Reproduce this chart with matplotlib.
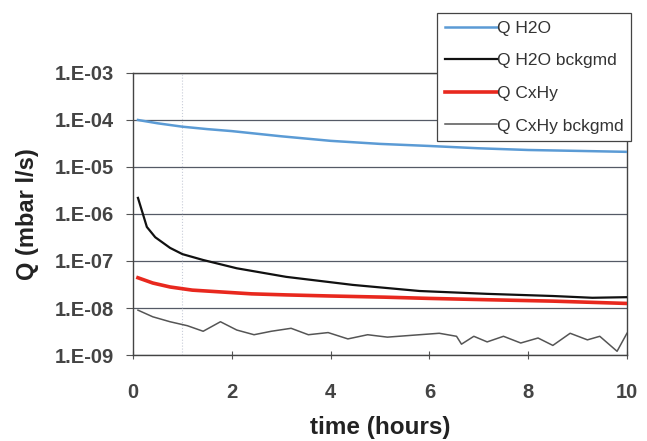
import matplotlib
matplotlib.use("Agg")
import matplotlib.pyplot as plt
import numpy as np

plt.rcParams['font.family'] = ['Liberation Sans', 'DejaVu Sans']

# Data
t_h2o = [0.1, 0.5, 1.0, 1.5, 2.0, 3.0, 4.0, 5.0, 6.0, 7.0, 8.0, 9.0, 10.0]
q_h2o = [1.0e-4, 8.5e-5, 7.2e-5, 6.4e-5, 5.8e-5, 4.5e-5, 3.6e-5, 3.1e-5, 2.8e-5, 2.5e-5, 2.3e-5, 2.2e-5, 2.1e-5]

t_h2o_bg = [0.1, 0.2, 0.28, 0.45, 0.75, 1.0, 1.42, 2.1, 3.1, 4.45, 5.8, 7.17, 8.5, 9.3, 10.0]
q_h2o_bg = [2.2e-6, 1.0e-6, 5.3e-7, 3.2e-7, 1.9e-7, 1.4e-7, 1.05e-7, 7.0e-8, 4.6e-8, 3.1e-8, 2.3e-8, 2.0e-8, 1.8e-8, 1.65e-8, 1.7e-8]

t_cxhy = [0.1, 0.4, 0.75, 1.2, 1.77, 2.4, 3.1, 4.0, 5.1, 6.0, 7.17, 8.5, 10.0]
q_cxhy = [4.4e-8, 3.4e-8, 2.8e-8, 2.4e-8, 2.2e-8, 2.0e-8, 1.9e-8, 1.8e-8, 1.7e-8, 1.6e-8, 1.5e-8, 1.4e-8, 1.25e-8]

t_cxhy_bg = [0.1, 0.4, 0.75, 1.1, 1.42, 1.77, 2.1, 2.45, 2.8, 3.2, 3.55, 3.95, 4.35, 4.75,
             5.15, 5.8, 6.2, 6.55, 6.65, 6.9, 7.17, 7.5, 7.85, 8.2, 8.5, 8.85, 9.2, 9.45, 9.8, 10.0]
q_cxhy_bg = [9.0e-9, 6.5e-9, 5.1e-9, 4.2e-9, 3.2e-9, 5.1e-9, 3.4e-9, 2.7e-9, 3.2e-9, 3.7e-9, 2.7e-9, 3.0e-9, 2.2e-9, 2.7e-9,
             2.4e-9, 2.7e-9, 2.9e-9, 2.5e-9, 1.7e-9, 2.5e-9, 1.9e-9, 2.5e-9, 1.8e-9, 2.3e-9, 1.6e-9, 2.9e-9, 2.1e-9, 2.5e-9, 1.2e-9, 2.9e-9]

labels = ["Q H2O", "Q H2O bckgmd", "Q CxHy", "Q CxHy bckgmd"]
yticks = [1e-9, 1e-8, 1e-7, 1e-6, 1e-5, 1e-4, 1e-3]
ytick_labels = ["1.E-09", "1.E-08", "1.E-07", "1.E-06", "1.E-05", "1.E-04", "1.E-03"]
xticks = [0, 2, 4, 6, 8, 10]

fig = plt.figure(figsize=(6.47, 4.41), dpi=100)
ax = fig.add_axes([0.2056, 0.195, 0.7634, 0.6395])

for y in yticks:
    ax.axhline(y, color='#555a66', lw=0.9, zorder=1)
ax.axvline(1.0, color='#c8ccd8', lw=0.8, ls=':', zorder=1)

l1, = ax.plot(t_h2o, q_h2o, color='#5b9bd5', lw=1.8, zorder=3)
l2, = ax.plot(t_h2o_bg, q_h2o_bg, color='#111111', lw=1.6, zorder=4)
l3, = ax.plot(t_cxhy, q_cxhy, color='#e8281e', lw=2.6, zorder=3)
l4, = ax.plot(t_cxhy_bg, q_cxhy_bg, color='#555555', lw=1.1, zorder=3)

ax.set_yscale('log')
ax.set_ylim(1e-9, 1e-3)
ax.set_xlim(0, 10)
ax.set_yticks(yticks)
ax.set_yticklabels(ytick_labels)
ax.minorticks_off()
ax.set_xticks(xticks)
ax.set_xticklabels([str(x) for x in xticks])
for lab in ax.get_yticklabels() + ax.get_xticklabels():
    lab.set_fontsize(14.5)
    lab.set_color('#444444')
    lab.set_fontweight('bold')
ax.tick_params(axis='y', direction='out', length=5, color='#555555', pad=9)
ax.tick_params(axis='x', direction='inout', length=6, color='#555555', pad=17)
for s in ax.spines.values():
    s.set_color('#444444')
    s.set_linewidth(1.0)

ax.set_ylabel("Q (mbar l/s)", fontsize=17, fontweight='bold', color='#222222', labelpad=11)
ax.set_xlabel("time (hours)", fontsize=17.5, fontweight='bold', color='#222222', labelpad=10)

leg = fig.legend([l1, l2, l3, l4], labels, loc='upper left',
                 bbox_to_anchor=(437/647, 1 - 13/441), fontsize=12.5,
                 frameon=True, fancybox=False, handlelength=3.0, handletextpad=0.0,
                 labelspacing=1.0, borderpad=0.45, borderaxespad=0)
leg.get_frame().set_edgecolor('#444444')
leg.get_frame().set_linewidth(0.9)
leg.get_frame().set_facecolor('white')
leg.get_frame().set_alpha(1.0)
for txt in leg.get_texts():
    txt.set_color('#333333')

fig.savefig("out.png", dpi=100)
